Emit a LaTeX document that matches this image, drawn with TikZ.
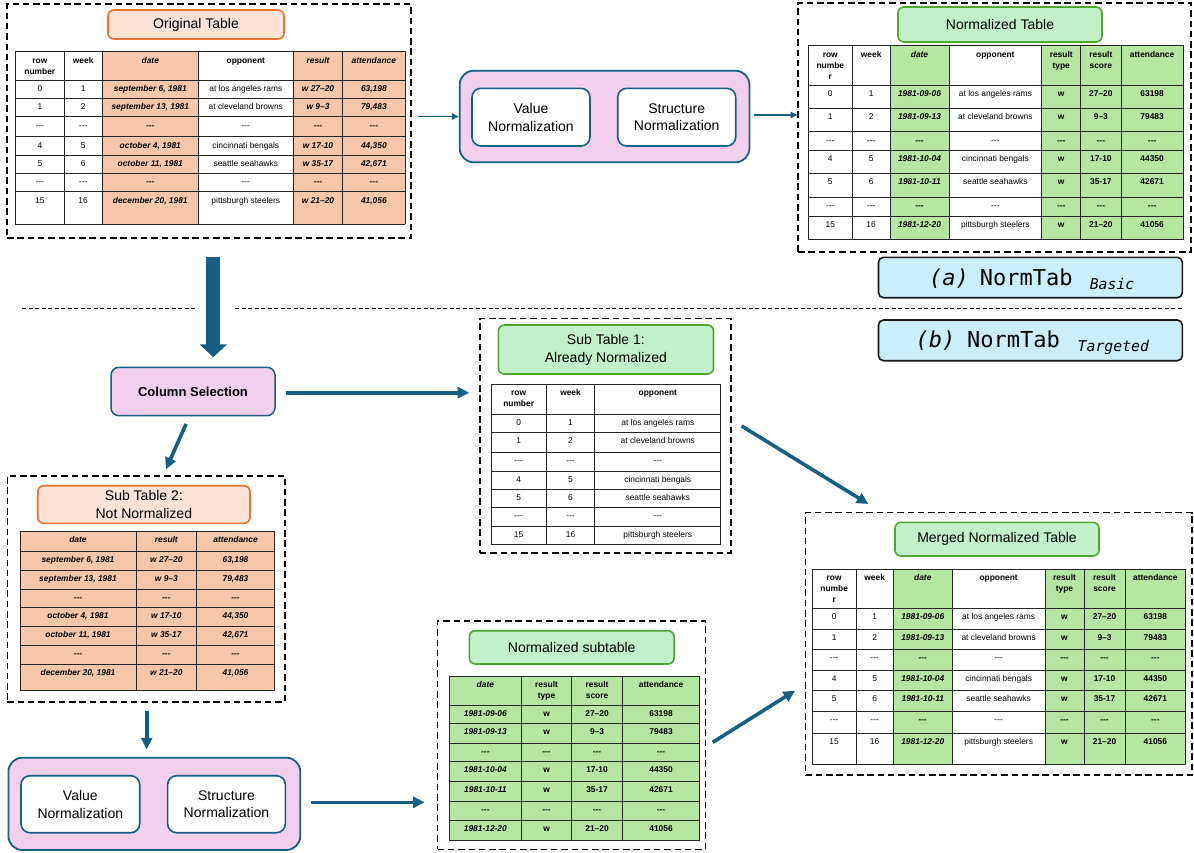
\documentclass[tikz,border=0pt]{standalone}
\usepackage{fontspec}
\setmainfont{Liberation Sans}
\newfontfamily\monof{DejaVu Sans Mono}
\usetikzlibrary{arrows.meta}
\definecolor{peachcell}{HTML}{F7C7AC}
\definecolor{peachfill}{HTML}{FBE3D6}
\definecolor{peachline}{HTML}{E97132}
\definecolor{greencell}{HTML}{B5E6A2}
\definecolor{greenfill}{HTML}{C2F0C8}
\definecolor{greenline}{HTML}{4EA72E}
\definecolor{pinkfill}{HTML}{F2CFEE}
\definecolor{arrowc}{HTML}{156082}
\definecolor{bluefill}{HTML}{CAEEFB}
\newcommand\tf{\fontsize{8.4}{11}\selectfont}
\newcommand\dd{-\kern0pt-\kern0pt-}
\newcommand\bx[7]{\node[#2,minimum width={(#5)-(#3)},minimum height={(#6)-(#4)}] (#1) at ({((#3)+(#5))/2},{((#4)+(#6))/2}) {#7};}
\newcommand\grid[6]{%
  \foreach \gx in {#1} \draw[gline] (\gx,#5) -- (\gx,#6);
  \foreach \gy in {#2} \draw[gline] (#3,\gy) -- (#4,\gy);}
\newcommand\RO[7]{%
  \node[cell] at (39.85,#1) {#2};
  \node[cell] at (83.15,#1) {#3};
  \node[cell,cbi] at (150.3,#1) {#4};
  \node[cell] at (245.8,#1) {#5};
  \node[cell,cbi] at (318,#1) {#6};
  \node[cell,cbi] at (373.85,#1) {#7};}
\newcommand\RN[8]{%
  \node[cell] at (830.3,#1) {#2};
  \node[cell] at (871.15,#1) {#3};
  \node[cell,cbi] at (919.5,#1) {#4};
  \node[cell] at (995.35,#1) {#5};
  \node[cell,cb] at (1061.2,#1) {#6};
  \node[cell,cb] at (1100.85,#1) {#7};
  \node[cell,cb] at (1152.15,#1) {#8};}
\newcommand\RM[8]{%
  \node[cell] at (834.15,#1) {#2};
  \node[cell] at (874.65,#1) {#3};
  \node[cell,cbi] at (922.8,#1) {#4};
  \node[cell] at (998.65,#1) {#5};
  \node[cell,cb] at (1064.5,#1) {#6};
  \node[cell,cb] at (1104.5,#1) {#7};
  \node[cell,cb] at (1155.35,#1) {#8};}
\newcommand\RA[4]{%
  \node[cell] at (518.65,#1) {#2};
  \node[cell] at (570.55,#1) {#3};
  \node[cell] at (657.8,#1) {#4};}
\newcommand\RB[4]{%
  \node[cell,cbi] at (78,#1) {#2};
  \node[cell,cbi] at (166.35,#1) {#3};
  \node[cell,cbi] at (235.5,#1) {#4};}
\newcommand\RC[5]{%
  \node[cell,cbi] at (485.35,#1) {#2};
  \node[cell,cb] at (546.55,#1) {#3};
  \node[cell,cb] at (597.05,#1) {#4};
  \node[cell,cb] at (661.05,#1) {#5};}
\tikzset{
  cell/.style={anchor=base, inner sep=0pt, font=\tf},
  cb/.style={font=\tf\bfseries},
  cbi/.style={font=\tf\bfseries\itshape},
  gline/.style={draw=black!85, line width=0.9pt, line cap=rect},
  dbox/.style={draw=black, line width=1.6pt, dash pattern=on 6.5pt off 3.8pt, inner sep=0pt},
  ttlO/.style={draw=peachline, fill=peachfill, line width=1.6pt, rounded corners=6pt, inner sep=0pt, align=center, font=\fontsize{14}{18}\selectfont},
  ttlG/.style={draw=greenline, fill=greenfill, line width=1.6pt, rounded corners=6pt, inner sep=0pt, align=center, font=\fontsize{14}{18}\selectfont},
  pinkbox/.style={draw=arrowc, fill=pinkfill, line width=1.8pt, rounded corners=14pt, inner sep=0pt},
  normbox/.style={draw=arrowc, fill=white, line width=1.6pt, rounded corners=9pt, inner sep=0pt, align=center, font=\fontsize{14}{17.7}\selectfont},
  selbox/.style={draw=arrowc, fill=pinkfill, line width=1.5pt, rounded corners=8pt, inner sep=0pt, font=\fontsize{13}{15}\selectfont\bfseries},
  labbox/.style={draw=black!90, fill=bluefill, line width=1.6pt, rounded corners=5pt, inner sep=0pt},
  thinarrow/.style={draw=arrowc, line width=1.5pt, -{Triangle[length=7pt,width=6.5pt]}},
  fatarrow/.style={draw=arrowc, line width=3.6pt, -{Triangle[length=11.5pt,width=11pt]}},
  sep/.style={draw=black, line width=1.1pt, dash pattern=on 4pt off 2.5pt},
  mono/.style={inner sep=0pt, anchor=base west, font=\monof\fontsize{22}{24}\selectfont},
  monosub/.style={inner sep=0pt, anchor=base west, font=\monof\itshape\fontsize{14.8}{16}\selectfont}
}
\begin{document}
\begin{tikzpicture}[x=1pt,y=-1pt]
\useasboundingbox (0,0) rectangle (1194,852);
\fill[white] (0,0) rectangle (1194,852);

% ---------- Original table ----------
\bx{origBox}{dbox}{7}{4}{411}{238}{}
\fill[peachcell] (102.3,51.7) rectangle (198.3,224);
\fill[peachcell] (293.3,51.7) rectangle (405,224);
\grid{15.7,64,102.3,198.3,293.3,342.7,405}{51.7,80,98.3,116.7,136.7,155,173.3,191.7,224}{15.7}{405}{51.7}{224}
\bx{origTitle}{ttlO}{108}{10}{284}{39}{Original Table}
\node[cell,cb] at (39.85,63.2) {row};
\node[cell,cb] at (39.85,74.2) {number};
\node[cell,cb] at (83.15,63.2) {week};
\node[cell,cbi] at (150.3,63.2) {date};
\node[cell,cb] at (245.8,63.2) {opponent};
\node[cell,cbi] at (318,63.2) {result};
\node[cell,cbi] at (373.85,63.2) {attendance};
\RO{91.5}{0}{1}{september 6, 1981}{at los angeles rams}{w 27–20}{63,198}
\RO{109.8}{1}{2}{september 13, 1981}{at cleveland browns}{w 9–3}{79,483}
\RO{128.2}{\dd}{\dd}{\dd}{\dd}{\dd}{\dd}
\RO{148.2}{4}{5}{october 4, 1981}{cincinnati bengals}{w 17-10}{44,350}
\RO{166.5}{5}{6}{october 11, 1981}{seattle seahawks}{w 35-17}{42,671}
\RO{184.8}{\dd}{\dd}{\dd}{\dd}{\dd}{\dd}
\RO{203.2}{15}{16}{december 20, 1981}{pittsburgh steelers}{w 21–20}{41,056}

% ---------- top normalization ----------
\bx{pinkTop}{pinkbox}{459.7}{70.7}{749.4}{162.3}{}
\bx{valTop}{normbox}{472}{88.3}{590}{146}{Value\\Normalization}
\bx{strTop}{normbox}{617.7}{88.3}{735.7}{146}{Structure\\Normalization}

% ---------- Normalized table ----------
\bx{normBox}{dbox}{798}{3}{1191}{252}{}
\fill[greencell] (890,45.7) rectangle (949,239.3);
\fill[greencell] (1041.7,45.7) rectangle (1183.3,239.3);
\grid{808.3,852.3,890,949,1041.7,1080.7,1121,1183.3}{45.7,85,108.3,131.7,150,173.3,197.3,216,239.3}{808.3}{1183.3}{45.7}{239.3}
\bx{normTitle}{ttlG}{898}{7}{1102}{42}{Normalized Table}
\node[cell,cb] at (830.3,57.2) {row};
\node[cell,cb] at (830.3,68.2) {numbe};
\node[cell,cb] at (830.3,79.2) {r};
\node[cell,cb] at (871.15,57.2) {week};
\node[cell,cbi] at (919.5,57.2) {date};
\node[cell,cb] at (995.35,57.2) {opponent};
\node[cell,cb] at (1061.2,57.2) {result};
\node[cell,cb] at (1061.2,68.2) {type};
\node[cell,cb] at (1100.85,57.2) {result};
\node[cell,cb] at (1100.85,68.2) {score};
\node[cell,cb] at (1152.15,57.2) {attendance};
\RN{96.5}{0}{1}{1981-09-06}{at los angeles rams}{w}{27–20}{63198}
\RN{119.8}{1}{2}{1981-09-13}{at cleveland browns}{w}{9–3}{79483}
\RN{143.2}{\dd}{\dd}{\dd}{\dd}{\dd}{\dd}{\dd}
\RN{161.5}{4}{5}{1981-10-04}{cincinnati bengals}{w}{17-10}{44350}
\RN{184.8}{5}{6}{1981-10-11}{seattle seahawks}{w}{35-17}{42671}
\RN{208.8}{\dd}{\dd}{\dd}{\dd}{\dd}{\dd}{\dd}
\RN{227.5}{15}{16}{1981-12-20}{pittsburgh steelers}{w}{21–20}{41056}

% ---------- labels ----------
\bx{labA}{labbox}{878.5}{257.3}{1182.3}{297.7}{}
\node[mono] (labAa) at (929,285) {\itshape(a)};
\node[mono] (labAn) at (979.7,285) {NormTab};
\node[monosub] (labAs) at (1089.6,289.6) {Basic};
\bx{labB}{labbox}{878.5}{320}{1182.3}{360.7}{}
\node[mono] (labBa) at (915.4,347.3) {\itshape(b)};
\node[mono] (labBn) at (967,347.3) {NormTab};
\node[monosub] (labBs) at (1077.5,351.7) {Targeted};

% ---------- separator ----------
\coordinate (sepA) at (22,308.3);
\coordinate (sepB) at (196.7,308.3);
\coordinate (sepC) at (235,308.3);
\coordinate (sepD) at (1182,308.3);
\draw[sep] (sepA) -- (sepB);
\draw[sep] (sepC) -- (sepD);

% ---------- column selection ----------
\bx{colSel}{selbox}{111}{367.3}{275}{415.7}{Column Selection}

% ---------- Sub table 1 ----------
\bx{subOne}{dbox}{479.9}{318.3}{731}{552.7}{}
\grid{491,546.3,594.8,720.8}{384.3,414,432.3,452.7,471.7,489.7,507.7,526,544.3}{491}{720.8}{384.3}{544.3}
\bx{subOneTitle}{ttlG}{498.3}{325}{713.5}{374}{Sub Table 1:\\Already Normalized}
\node[cell,cb] at (518.65,395.3) {row};
\node[cell,cb] at (518.65,406.3) {number};
\node[cell,cb] at (570.55,395.3) {week};
\node[cell,cb] at (657.8,395.3) {opponent};
\RA{425}{0}{1}{at los angeles rams}
\RA{443.3}{1}{2}{at cleveland browns}
\RA{463.7}{\dd}{\dd}{\dd}
\RA{482.7}{4}{5}{cincinnati bengals}
\RA{500.7}{5}{6}{seattle seahawks}
\RA{518.7}{\dd}{\dd}{\dd}
\RA{537}{15}{16}{pittsburgh steelers}

% ---------- Sub table 2 ----------
\bx{subTwo}{dbox}{7.3}{475.7}{285}{701.7}{}
\fill[peachcell] (20,531.7) rectangle (274.3,690);
\grid{20,136,196.7,274.3}{531.7,551,570,589,607.7,626.7,645.3,664,690}{20}{274.3}{531.7}{690}
\bx{subTwoTitle}{ttlO}{37.7}{485.7}{250}{523.3}{Sub Table 2:\\Not Normalized}
\RB{542.7}{date}{result}{attendance}
\RB{562}{september 6, 1981}{w 27–20}{63,198}
\RB{581}{september 13, 1981}{w 9–3}{79,483}
\RB{600}{\dd}{\dd}{\dd}
\RB{618.7}{october 4, 1981}{w 17-10}{44,350}
\RB{637.7}{october 11, 1981}{w 35-17}{42,671}
\RB{656.3}{\dd}{\dd}{\dd}
\RB{675}{december 20, 1981}{w 21–20}{41,056}

% ---------- bottom normalization ----------
\bx{pinkBot}{pinkbox}{8.4}{757.7}{300.3}{850}{}
\bx{valBot}{normbox}{21}{775.7}{139.7}{832.7}{Value\\Normalization}
\bx{strBot}{normbox}{167.6}{775.7}{285.4}{832.7}{Structure\\Normalization}

% ---------- Normalized subtable ----------
\bx{nsBox}{dbox}{437.6}{620.7}{705.3}{849.3}{}
\fill[greencell] (449.3,676) rectangle (699.7,840);
\grid{449.3,521.4,571.7,622.4,699.7}{676,705,723.3,743.3,761.7,781.7,801.7,820,840}{449.3}{699.7}{676}{840}
\bx{nsTitle}{ttlG}{469.3}{630.7}{674.1}{664}{Normalized subtable}
\node[cell,cbi] at (485.35,687) {date};
\node[cell,cb] at (546.55,687) {result};
\node[cell,cb] at (546.55,698) {type};
\node[cell,cb] at (597.05,687) {result};
\node[cell,cb] at (597.05,698) {score};
\node[cell,cb] at (661.05,687) {attendance};
\RC{716}{1981-09-06}{w}{27–20}{63198}
\RC{734.3}{1981-09-13}{w}{9–3}{79483}
\RC{754.3}{\dd}{\dd}{\dd}{\dd}
\RC{772.7}{1981-10-04}{w}{17-10}{44350}
\RC{792.7}{1981-10-11}{w}{35-17}{42671}
\RC{812.7}{\dd}{\dd}{\dd}{\dd}
\RC{831}{1981-12-20}{w}{21–20}{41056}

% ---------- Merged table ----------
\bx{mergedBox}{dbox}{805.5}{512.5}{1192}{775}{}
\fill[greencell] (893.3,569) rectangle (952.3,764);
\fill[greencell] (1045,569) rectangle (1185.7,764);
\grid{812.3,856,893.3,952.3,1045,1084,1125,1185.7}{569,608.3,629,649,670.7,690.7,711.7,733.3,764}{812.3}{1185.7}{569}{764}
\bx{mergedTitle}{ttlG}{895}{522.3}{1099}{556}{Merged Normalized Table}
\node[cell,cb] at (834.15,580) {row};
\node[cell,cb] at (834.15,591) {numbe};
\node[cell,cb] at (834.15,602) {r};
\node[cell,cb] at (874.65,580) {week};
\node[cell,cbi] at (922.8,580) {date};
\node[cell,cb] at (998.65,580) {opponent};
\node[cell,cb] at (1064.5,580) {result};
\node[cell,cb] at (1064.5,591) {type};
\node[cell,cb] at (1104.5,580) {result};
\node[cell,cb] at (1104.5,591) {score};
\node[cell,cb] at (1155.35,580) {attendance};
\RM{619.3}{0}{1}{1981-09-06}{at los angeles rams}{w}{27–20}{63198}
\RM{640}{1}{2}{1981-09-13}{at cleveland browns}{w}{9–3}{79483}
\RM{660}{\dd}{\dd}{\dd}{\dd}{\dd}{\dd}{\dd}
\RM{681.7}{4}{5}{1981-10-04}{cincinnati bengals}{w}{17-10}{44350}
\RM{701.7}{5}{6}{1981-10-11}{seattle seahawks}{w}{35-17}{42671}
\RM{722.7}{\dd}{\dd}{\dd}{\dd}{\dd}{\dd}{\dd}
\RM{744.3}{15}{16}{1981-12-20}{pittsburgh steelers}{w}{21–20}{41056}

% ---------- connectors ----------
\coordinate (a1s) at (417.7,116.5);
\coordinate (a2s) at (754.4,115);
\coordinate (a2e) at (797.5,115);
\draw[thinarrow] (a1s) -- (pinkTop.west);
\draw[thinarrow] (a2s) -- (a2e);
\coordinate (bigS) at (213.3,256.7);
\coordinate (bigE) at (213.3,357.3);
\draw[draw=arrowc, line width=14pt, -{Triangle[length=13pt,width=26.7pt]}] (bigS) -- (bigE);
\coordinate (csE) at (286,392.7);
\coordinate (st1W) at (469.2,392.7);
\draw[fatarrow] (csE) -- (st1W);
\coordinate (csS) at (186,424);
\coordinate (st2N) at (166,469.3);
\draw[fatarrow] (csS) -- (st2N);
\coordinate (st2S) at (146.7,710.7);
\coordinate (pbN) at (146.7,749.3);
\draw[fatarrow] (st2S) -- (pbN);
\coordinate (pbE) at (311,802.3);
\coordinate (nsW) at (424.6,802.3);
\draw[fatarrow] (pbE) -- (nsW);
\coordinate (st1E) at (741.7,426);
\coordinate (mgN) at (868.3,504);
\draw[fatarrow] (st1E) -- (mgN);
\coordinate (nsE) at (712.7,742.3);
\coordinate (mgW) at (795,690.7);
\draw[fatarrow] (nsE) -- (mgW);
\end{tikzpicture}
\end{document}
